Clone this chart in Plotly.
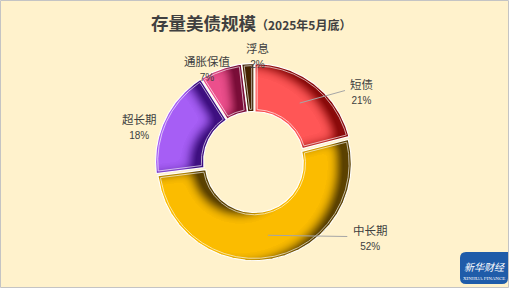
import numpy as np
import plotly.graph_objects as go

# ---- data ----
categories = ["短债", "中长期", "超长期", "通胀保值", "浮息"]
shares = [21, 52, 18, 7, 2]          # share of outstanding US Treasuries, %
title_main = "存量美债规模"
title_note = "（2025年5月底）"
logo_cn = "新华财经"
logo_en = "XINHUA FINANCE"

# ---- layout / style ----
W, H = 510, 289
CX, CY = 254.0, 162.0
R_OUT, R_IN = 97.0, 49.0
PULL = 1.6
BG = "#FFF2CC"
fill_colors = ["#FF5656", "#FBBC00", "#A65EF5", "#EC4F8C", "#8A4B05"]
shade_colors = ["#7A0000", "#443000", "#300570", "#6A042C", "#3A1C00"]
SHADE_MAX = 0.88
SHADOW_SHIFT = (14.0, -2.0)
SHADOW_BLUR = 5.5
label_turn = [18.7, -46.5, -7.8, -6.6, 5.5]
label_dist = [129.5, 137.9, 120.5, 105.5, 107.0]
leader = [True, True, False, False, False]
TXT = "#404040"
CJK = "Noto Sans CJK SC"


def pt(cx, cy, rho, deg):
    a = np.radians(deg)
    return cx + rho * np.sin(a), cy - rho * np.cos(a)


def hex_rgb(h):
    h = h.lstrip("#")
    return tuple(int(h[i:i + 2], 16) for i in (0, 2, 4))


total = float(sum(shares))
bounds = np.concatenate([[0.0], np.cumsum(shares)]) / total * 360.0
slices = []
for i, v in enumerate(shares):
    a0, a1 = bounds[i], bounds[i + 1]
    mid = (a0 + a1) / 2
    ox, oy = pt(0.0, 0.0, PULL, mid)
    slices.append(dict(a0=a0, a1=a1, mid=mid, cx=CX + ox, cy=CY + oy))


def sector_path(s, inset=0.0, step=0.5):
    ro, ri = R_OUT - inset, R_IN + inset
    do = np.degrees(np.arcsin(inset / ro))
    di = np.degrees(np.arcsin(inset / ri))
    n = max(int((s["a1"] - s["a0"]) / step), 3)
    ao = np.linspace(s["a0"] + do, s["a1"] - do, n)
    ai = np.linspace(s["a1"] - di, s["a0"] + di, n)
    xo, yo = pt(s["cx"], s["cy"], ro, ao)
    xi, yi = pt(s["cx"], s["cy"], ri, ai)
    return (np.concatenate([xo, xi, xo[:1]]).tolist(),
            np.concatenate([yo, yi, yo[:1]]).tolist())


def inside(s, x, y):
    dx, dy = x - s["cx"], y - s["cy"]
    rho = np.hypot(dx, dy)
    ang = np.degrees(np.arctan2(dx, -dy)) % 360
    return (rho >= R_IN) & (rho <= R_OUT) & (ang >= s["a0"]) & (ang <= s["a1"])


def gauss_blur(img, sigma):
    rad = int(3 * sigma) + 1
    k = np.exp(-0.5 * (np.arange(-rad, rad + 1) / sigma) ** 2)
    k /= k.sum()
    pad = np.pad(img, rad, mode="edge")
    tmp = np.apply_along_axis(lambda r: np.convolve(r, k, mode="valid"), 1, pad)
    return np.apply_along_axis(lambda c: np.convolve(c, k, mode="valid"), 0, tmp)


fig = go.Figure()

# slice bodies
for i, s in enumerate(slices):
    xs, ys = sector_path(s)
    fig.add_trace(go.Scatter(x=xs, y=ys, mode="lines", fill="toself",
                             fillcolor=fill_colors[i], line=dict(width=0),
                             hoverinfo="skip", showlegend=False))

# inner shadow along the right-facing edges of every slice,
# drawn as 1-px translucent squares above the slice bodies
gx = np.arange(int(CX - R_OUT - 8), int(CX + R_OUT + 10)) + 0.5
gy = np.arange(int(CY - R_OUT - 8), int(CY + R_OUT + 10)) + 0.5
X, Y = np.meshgrid(gx, gy)
for i, s in enumerate(slices):
    outside = 1.0 - inside(s, X + SHADOW_SHIFT[0], Y + SHADOW_SHIFT[1]).astype(float)
    dark = np.clip(gauss_blur(outside, SHADOW_BLUR) * 1.15, 0, 1) ** 1.3
    m = inside(s, X, Y) & (dark > 0.02)
    r, g, b = hex_rgb(shade_colors[i])
    cols = [f"rgba({r},{g},{b},{a * SHADE_MAX:.3f})" for a in dark[m]]
    fig.add_trace(go.Scatter(
        x=X[m].tolist(), y=Y[m].tolist(), mode="markers",
        marker=dict(symbol="square", size=1.0, color=cols, line=dict(width=0)),
        hoverinfo="skip", showlegend=False))

# double white outline of each slice
for i, s in enumerate(slices):
    xs, ys = sector_path(s)
    fig.add_trace(go.Scatter(x=xs, y=ys, mode="lines",
                             line=dict(color="white", width=1.1),
                             hoverinfo="skip", showlegend=False))
    xs, ys = sector_path(s, inset=2.2)
    fig.add_trace(go.Scatter(x=xs, y=ys, mode="lines", opacity=0.8,
                             line=dict(color="white", width=0.8),
                             hoverinfo="skip", showlegend=False))

# labels and leader lines
annotations = []
for i, s in enumerate(slices):
    lx, ly = pt(CX, CY, label_dist[i], s["mid"] + label_turn[i])
    if leader[i]:
        sx, sy = pt(s["cx"], s["cy"], (R_OUT + R_IN) / 2, s["mid"])
        ex = lx - len(categories[i]) * 11.5 / 2 - 5.5
        fig.add_trace(go.Scatter(x=[float(sx), float(ex)], y=[float(sy), float(ly)],
                                 mode="lines", line=dict(color="#A6A6A6", width=1),
                                 hoverinfo="skip", showlegend=False))
    pct = f"{shares[i] / total * 100:.0f}%"
    annotations.append(dict(
        x=float(lx), y=float(ly), xref="x", yref="y", showarrow=False, align="center",
        xanchor="center", yanchor="middle",
        text=f"{categories[i]}<br><span style='font-family:Liberation Sans, Arial;"
             f" font-size:10px'>{pct}</span>",
        font=dict(family=CJK, size=11.5, color=TXT)))

# title
annotations.append(dict(
    x=251, y=22, xref="x", yref="y", showarrow=False,
    xanchor="center", yanchor="middle",
    text=f"<b>{title_main}</b><span style='font-size:12px'><b>{title_note}</b></span>",
    font=dict(family=CJK, size=17.5, color=TXT)))

# logo badge
annotations.append(dict(x=484, y=266.5, xref="x", yref="y", showarrow=False,
                        text=f"<i>{logo_cn}</i>",
                        font=dict(family=CJK, size=10, color="white")))
annotations.append(dict(x=484, y=278.5, xref="x", yref="y", showarrow=False,
                        text=logo_en,
                        font=dict(family="Liberation Serif", size=5, color="white")))

shapes = [
    dict(type="rect", xref="x", yref="y", x0=0.5, x1=508.5, y0=0.5, y1=287.5,
         fillcolor=BG, line=dict(color="#C4C4C4", width=1), layer="below"),
    dict(type="path", xref="x", yref="y", layer="below",
         path="M 466 252 L 508 252 L 508 278 Q 508 284 502 284 L 466 284 "
              "Q 460 284 460 278 L 460 258 Q 460 252 466 252 Z",
         fillcolor="#1F5CA9", line=dict(width=0)),
]

fig.update_layout(
    width=W, height=H, margin=dict(l=0, r=0, t=0, b=0),
    paper_bgcolor="white", plot_bgcolor="rgba(0,0,0,0)",
    xaxis=dict(range=[0, W], visible=False, fixedrange=True),
    yaxis=dict(range=[H, 0], visible=False, fixedrange=True),
    annotations=annotations, shapes=shapes, showlegend=False,
)

fig.write_html("out.html", config={"displayModeBar": False})
